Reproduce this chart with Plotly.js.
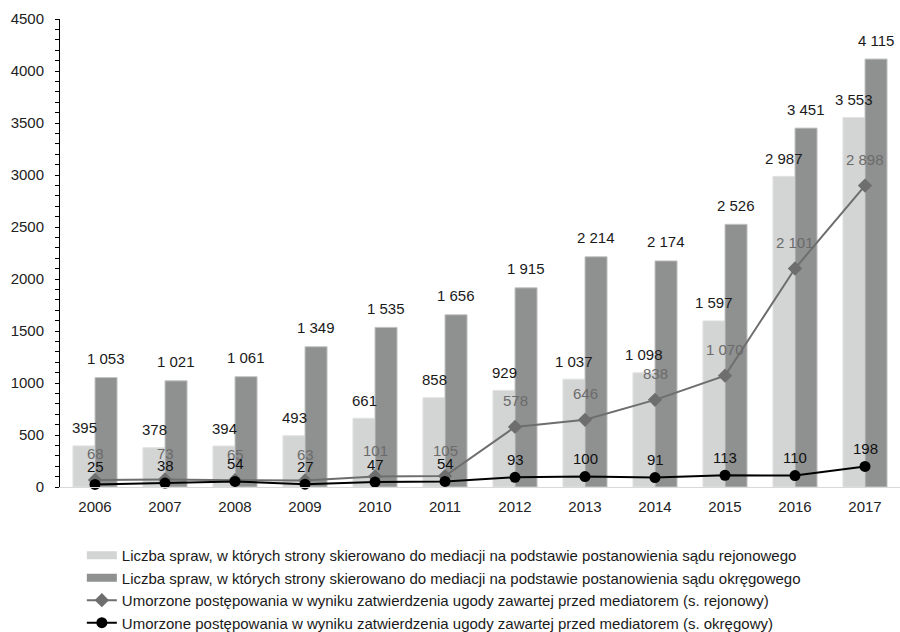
<!DOCTYPE html>
<html><head><meta charset="utf-8">
<script src="https://cdn.plot.ly/plotly-3.0.1.min.js"></script>
<style>body{margin:0;background:#fff}#chart{width:900px;height:632px}</style>
</head><body><div id="chart"></div>
<script>
const years = ['2006','2007','2008','2009','2010','2011','2012','2013','2014','2015','2016','2017'];
const sprawyRejonowy = [395, 378, 394, 493, 661, 858, 929, 1037, 1098, 1597, 2987, 3553];
const sprawyOkregowy = [1053, 1021, 1061, 1349, 1535, 1656, 1915, 2214, 2174, 2526, 3451, 4115];
const umorzoneRejonowy = [68, 73, 65, 63, 101, 105, 578, 646, 838, 1070, 2101, 2898];
const umorzoneOkregowy = [25, 38, 54, 27, 47, 54, 93, 100, 91, 113, 110, 198];
const seriesNames = [
  'Liczba spraw, w których strony skierowano do mediacji na podstawie postanowienia sądu rejonowego',
  'Liczba spraw, w których strony skierowano do mediacji na podstawie postanowienia sądu okręgowego',
  'Umorzone postępowania w wyniku zatwierdzenia ugody zawartej przed mediatorem (s. rejonowy)',
  'Umorzone postępowania w wyniku zatwierdzenia ugody zawartej przed mediatorem (s. okręgowy)'
];

function fmt(v){ return String(v).replace(/\B(?=(\d{3})+(?!\d))/g, ' '); }

const FONT = 'Liberation Sans, Arial, sans-serif';
const LIGHT = '#d3d4d4', DARK = '#8f9090';

const traces = [
  // legend entries for the bar series (wide rectangle swatches as in the original)
  {type:'scatter', mode:'lines', name:seriesNames[0], x:[null], y:[null],
   line:{color:LIGHT, width:8}, legendrank:1},
  {type:'scatter', mode:'lines', name:seriesNames[1], x:[null], y:[null],
   line:{color:DARK, width:8}, legendrank:2},
  {type:'bar', name:seriesNames[0], x:years, y:sprawyRejonowy, showlegend:false,
   marker:{color:LIGHT, line:{color:'#e2e2e2', width:1}}, hoverinfo:'skip'},
  {type:'bar', name:seriesNames[1], x:years, y:sprawyOkregowy, showlegend:false,
   marker:{color:DARK, line:{color:'#c4c4c4', width:1}}, hoverinfo:'skip'},
  {type:'scatter', mode:'lines+markers', name:seriesNames[2], x:years, y:umorzoneRejonowy,
   line:{color:'#6e6e6e', width:2}, marker:{symbol:'diamond', size:11, color:'#6e6e6e'}, cliponaxis:false, legendrank:3},
  {type:'scatter', mode:'lines+markers', name:seriesNames[3], x:years, y:umorzoneOkregowy,
   line:{color:'#000000', width:2}, marker:{symbol:'circle', size:11, color:'#000000'}, cliponaxis:false, legendrank:4}
];

const annotations = [];
years.forEach((yr, i) => {
  annotations.push({x:i, y:sprawyRejonowy[i], text:fmt(sprawyRejonowy[i]), showarrow:false,
    xshift:-11, yshift:18, yanchor:'middle', font:{family:FONT, size:15, color:'#1a1a1a'}});
  annotations.push({x:i, y:sprawyOkregowy[i], text:fmt(sprawyOkregowy[i]), showarrow:false,
    xshift:11, yshift:19, yanchor:'middle', font:{family:FONT, size:15, color:'#1a1a1a'}});
  annotations.push({x:i, y:umorzoneRejonowy[i], text:fmt(umorzoneRejonowy[i]), showarrow:false,
    xshift:0, yshift:26, yanchor:'middle', font:{family:FONT, size:15, color:'#6b6b6b'}});
  annotations.push({x:i, y:umorzoneOkregowy[i], text:fmt(umorzoneOkregowy[i]), showarrow:false,
    xshift:0, yshift:18, yanchor:'middle', font:{family:FONT, size:15, color:'#111111'}});
});

const layout = {
  width:900, height:632,
  margin:{l:60, r:0, t:19, b:145, autoexpand:false},
  paper_bgcolor:'#ffffff', plot_bgcolor:'#ffffff',
  font:{family:FONT, size:15, color:'#222222'},
  barmode:'group', bargap:0.37, bargroupgap:0,
  showlegend:true,
  legend:{x:0.026, xanchor:'left', y:-0.111, yanchor:'top', orientation:'v',
    font:{family:FONT, size:15, color:'#1a1a1a'}, tracegroupgap:0,
    bgcolor:'rgba(0,0,0,0)'},
  xaxis:{type:'category', range:[-0.5, years.length - 0.5], showline:true, linecolor:'#d9d9d9', linewidth:1,
    ticks:'outside', ticklen:6, tickcolor:'rgba(0,0,0,0)', showgrid:false, zeroline:false,
    tickfont:{family:FONT, size:15, color:'#222222'}},
  yaxis:{range:[0,4500], dtick:500, showline:true, linecolor:'#000000', linewidth:1,
    ticks:'outside', ticklen:4, tickcolor:'#000000', showgrid:false, zeroline:false,
    minor:{dtick:100, ticks:'outside', ticklen:4, tickcolor:'#000000'},
    ticklabelstandoff:8,
    tickfont:{family:FONT, size:15, color:'#222222'}},
  yaxis2:{overlaying:'y', side:'left', range:[0,4500], dtick:500, showline:false,
    ticks:'inside', ticklen:4, tickcolor:'#000000', showticklabels:false, showgrid:false, zeroline:false,
    minor:{dtick:100, ticks:'inside', ticklen:4, tickcolor:'#000000'}},
  annotations:annotations
};

Plotly.newPlot('chart', traces, layout, {displayModeBar:false, staticPlot:true});
</script>
</body></html>
